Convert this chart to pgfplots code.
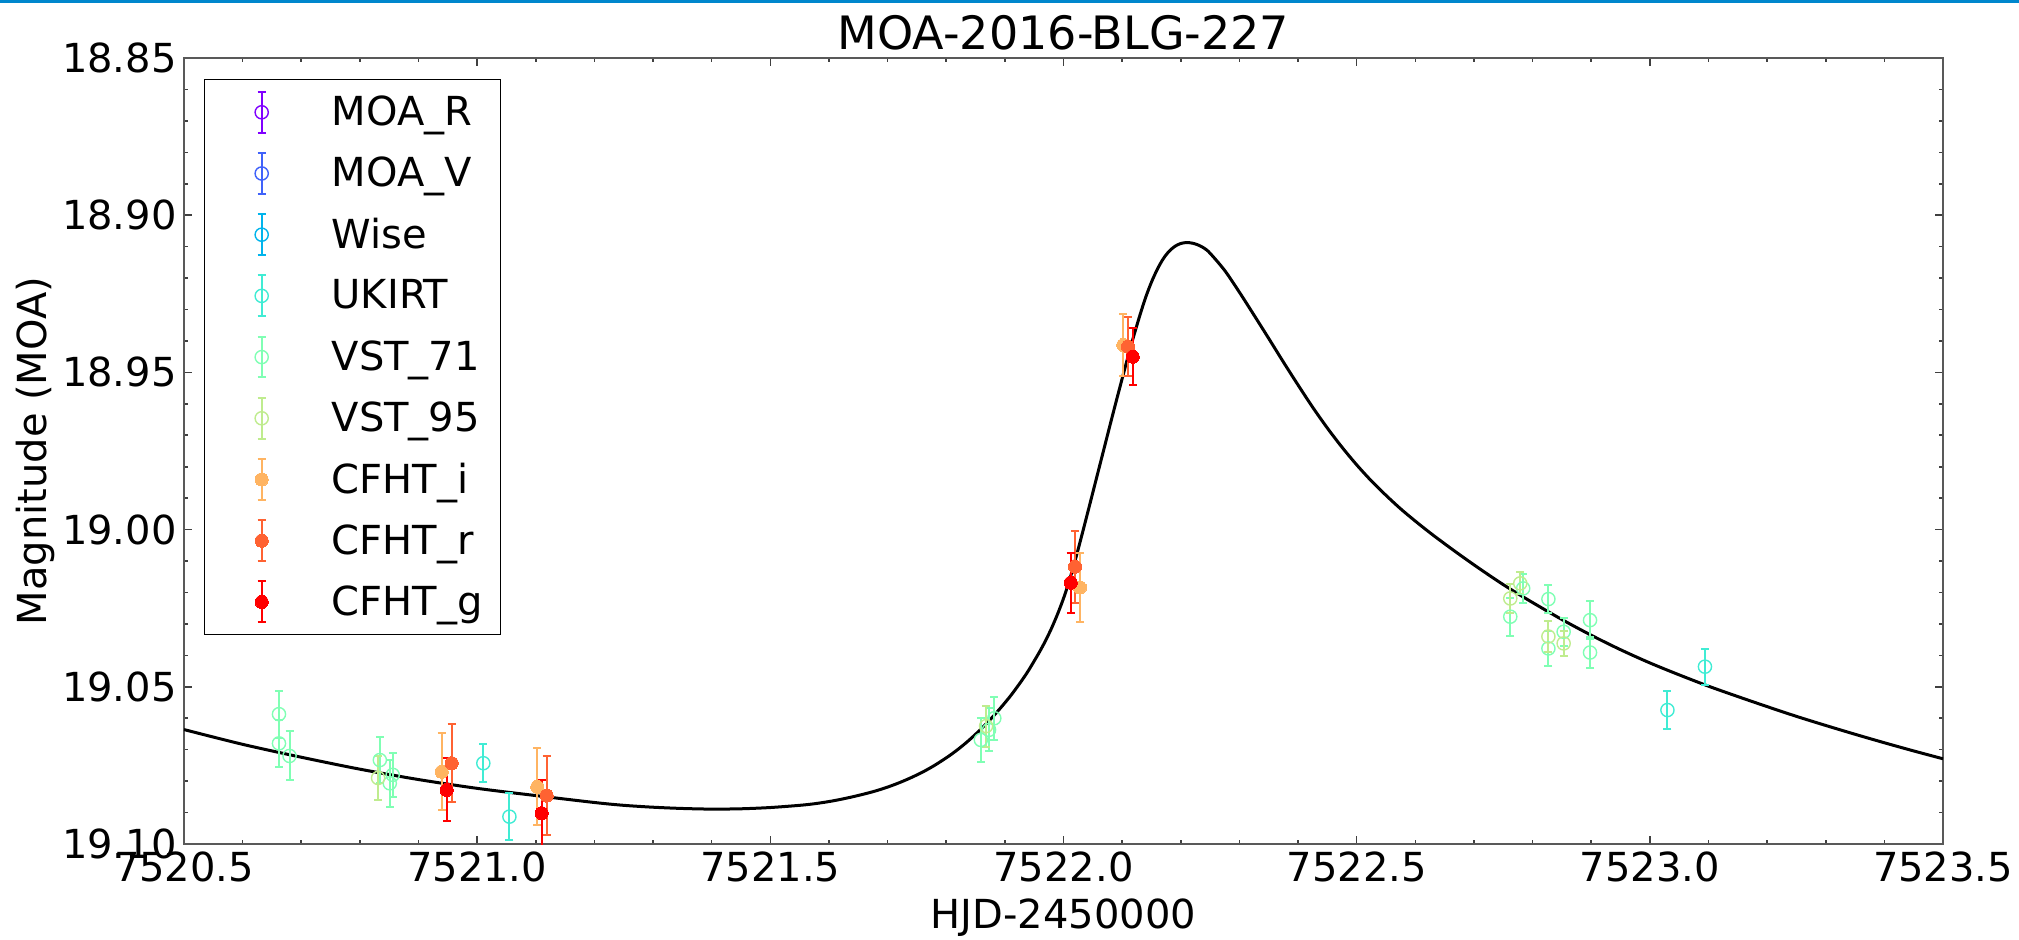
\documentclass[border=0pt]{standalone}
\usepackage{fontspec}
\setmainfont{DejaVu Sans}
\usepackage{pgfplots}
\usepackage{pgfplotstable}
\pgfplotsset{compat=1.18}

% rainbow colour map sampled at nine data sets
\definecolor{cMOAR}{RGB}{128,0,255}
\definecolor{cMOAV}{RGB}{64,98,250}
\definecolor{cWise}{RGB}{0,180,236}
\definecolor{cUKIRT}{RGB}{64,236,212}
\definecolor{cVSTa}{RGB}{128,255,180}
\definecolor{cVSTb}{RGB}{191,236,142}
\definecolor{cCFi}{RGB}{255,180,98}
\definecolor{cCFr}{RGB}{255,98,50}
\definecolor{cCFg}{RGB}{255,0,0}
\definecolor{cBar}{RGB}{0,135,205}

% best-fit model light curve
\pgfplotstableread{
t m
7520.50 19.0636
7520.60 19.0683
7520.70 19.0724
7520.80 19.0762
7520.90 19.0795
7521.00 19.0823
7521.10 19.0846
7521.20 19.0868
7521.25 19.0877
7521.30 19.0883
7521.35 19.0887
7521.40 19.0889
7521.45 19.0888
7521.50 19.0884
7521.55 19.0877
7521.575 19.0872
7521.60 19.0865
7521.62 19.0858
7521.64 19.0850
7521.66 19.0841
7521.68 19.0831
7521.70 19.0819
7521.72 19.0805
7521.74 19.0789
7521.76 19.0771
7521.78 19.0750
7521.80 19.0726
7521.81 19.0713
7521.82 19.0699
7521.83 19.0684
7521.84 19.0668
7521.85 19.0651
7521.86 19.0633
7521.87 19.0614
7521.88 19.0594
7521.89 19.0573
7521.90 19.0551
7521.91 19.0528
7521.92 19.0503
7521.93 19.0477
7521.94 19.0449
7521.95 19.0418
7521.96 19.0386
7521.97 19.0351
7521.98 19.0312
7521.99 19.0268
7522.00 19.0219
7522.01 19.0162
7522.02 19.0097
7522.03 19.0027
7522.04 18.9955
7522.05 18.9882
7522.06 18.9809
7522.07 18.9736
7522.08 18.9663
7522.09 18.9591
7522.10 18.9520
7522.11 18.9450
7522.12 18.9383
7522.13 18.9320
7522.14 18.9262
7522.15 18.9213
7522.16 18.9172
7522.17 18.9139
7522.18 18.9115
7522.19 18.9099
7522.20 18.9090
7522.21 18.9087
7522.22 18.9089
7522.23 18.9095
7522.24 18.9105
7522.25 18.9121
7522.275 18.9176
7522.30 18.9245
7522.325 18.9318
7522.35 18.9392
7522.375 18.9467
7522.40 18.9540
7522.425 18.9611
7522.45 18.9677
7522.475 18.9738
7522.50 18.9794
7522.525 18.9845
7522.55 18.9891
7522.575 18.9934
7522.60 18.9973
7522.625 19.0010
7522.65 19.0045
7522.675 19.0079
7522.70 19.0112
7522.725 19.0144
7522.75 19.0175
7522.775 19.0204
7522.80 19.0232
7522.85 19.0286
7522.90 19.0336
7522.95 19.0382
7523.00 19.0424
7523.05 19.0462
7523.10 19.0498
7523.15 19.0531
7523.20 19.0563
7523.25 19.0594
7523.30 19.0623
7523.35 19.0651
7523.40 19.0678
7523.45 19.0704
7523.50 19.0729
}\modelcurve

\pgfplotstableread{
t m e
7521.0105 19.0743 0.0061
7521.055 19.0913 0.0075
7523.030 19.0574 0.0061
7523.094 19.0436 0.0057
}\ukirt

\pgfplotstableread{
t m e
7520.662 19.0587 0.0075
7520.662 19.0680 0.0075
7520.680 19.0720 0.0078
7520.834 19.0733 0.0072
7520.851 19.0807 0.0075
7520.856 19.0780 0.0070
7521.859 19.0669 0.0070
7521.873 19.0637 0.0068
7521.882 19.0600 0.0068
7522.762 19.0277 0.0061
7522.784 19.0187 0.0045
7522.827 19.0221 0.0045
7522.827 19.0378 0.0055
7522.853 19.0325 0.0045
7522.898 19.0288 0.0060
7522.898 19.0391 0.0050
}\vstA

\pgfplotstableread{
t m e
7520.831 19.0790 0.0070
7521.868 19.0625 0.0065
7522.762 19.0219 0.0045
7522.779 19.0171 0.0035
7522.827 19.0340 0.0050
7522.853 19.0362 0.0040
}\vstB

\pgfplotstableread{
t m e
7520.9395 19.0770 0.0122
7521.1026 19.0818 0.0122
7522.028 19.0184 0.0110
7522.102 18.9413 0.0100
}\cfhti

\pgfplotstableread{
t m e
7520.9566 19.0743 0.0125
7521.1186 19.0846 0.0125
7522.0197 19.0118 0.0115
7522.110 18.9418 0.0095
}\cfhtr

\pgfplotstableread{
t m e
7520.948 19.0828 0.0100
7521.110 19.0902 0.0105
7522.0123 19.0169 0.0095
7522.118 18.9450 0.0090
}\cfhtg

\pgfplotsset{
  ebleg/.style={
    /pgfplots/legend image code/.code={%
      \path[draw=none,fill=none] (-27.5pt,-15.3pt) rectangle (35pt,15.3pt);
      \draw[line width=1pt,solid] (0pt,-10.2pt) -- (0pt,10.2pt)
        (-2pt,-10.2pt) -- (2pt,-10.2pt) (-2pt,10.2pt) -- (2pt,10.2pt);
      \draw[only marks] plot coordinates {(0pt,0pt)};
    }},
  ebbase/.style={
    /tikz/only marks,
    /pgfplots/error bars/y dir=both,
    /pgfplots/error bars/y explicit,
    /pgfplots/error bars/error bar style={line width=1pt,solid},
    /pgfplots/error bars/error mark options={rotate=90,mark size=2pt,line width=1pt,solid},
  },
  openpt/.style={ebbase, /tikz/mark=o, /tikz/mark size=3.3pt,
    /tikz/mark options={line width=0.7pt,solid}, ebleg},
  fullpt/.style={ebbase, /tikz/mark=*, /tikz/mark size=3.3pt,
    /tikz/mark options={line width=0pt,solid}, ebleg},
}

\begin{document}
\begin{tikzpicture}
\path[use as bounding box] (0,0) rectangle (1009.5pt,470pt);
\fill[cBar] (0,468.6pt) rectangle (1009.5pt,470pt);
\begin{axis}[
  at={(92pt,48pt)}, anchor=south west,
  scale only axis, width=879.5pt, height=393pt,
  xmin=7520.5, xmax=7523.5,
  ymin=18.85, ymax=19.10, y dir=reverse,
  xtick={7520.5,7521,7521.5,7522,7522.5,7523,7523.5},
  ytick={18.85,18.90,18.95,19.00,19.05,19.10},
  minor x tick num=4, minor y tick num=4,
  scaled ticks=false,
  major tick length=4pt, minor tick length=2pt,
  tick style={black!75, line width=0.8pt},
  axis line style={black!65, line width=1.3pt},
  tick label style={font=\fontsize{20}{24}\selectfont},
  xticklabel style={anchor=base, yshift=-19pt,
    /pgf/number format/assume math mode=true, /pgf/number format/fixed,
    /pgf/number format/fixed zerofill, /pgf/number format/precision=1,
    /pgf/number format/1000 sep={}},
  yticklabel style={anchor=east, inner sep=0pt, xshift=-3.5pt,
    /pgf/number format/assume math mode=true, /pgf/number format/fixed,
    /pgf/number format/fixed zerofill, /pgf/number format/precision=2},
  xlabel={HJD-2450000},
  ylabel={Magnitude (MOA)},
  label style={font=\fontsize{20}{24}\selectfont},
  xlabel style={at={(axis description cs:0.5,-0.1081)}, anchor=base},
  ylabel style={at={(axis description cs:-0.07845,0.5)}, anchor=base},
  title={MOA-2016-BLG-227},
  title style={font=\fontsize{23}{28}\selectfont, at={(axis description cs:0.5,1)}, anchor=base, yshift=-2pt},
  legend style={at={(axis description cs:0.01137,0.9733)}, anchor=north west,
    draw=black, line width=0.7pt, fill=white, inner sep=1pt, row sep=0pt,
    font=\fontsize{20}{24}\selectfont, nodes={inner sep=0pt}},
  legend cell align=left,
]
\addplot[black, line width=1.5pt, smooth, forget plot] table[x=t,y=m] {\modelcurve};

\addlegendimage{color=cMOAR, openpt}
\addlegendentry{\makebox[83.5pt][l]{MOA\_R}}
\addlegendimage{color=cMOAV, openpt}
\addlegendentry{\makebox[83.5pt][l]{MOA\_V}}
\addlegendimage{color=cWise, openpt}
\addlegendentry{\makebox[83.5pt][l]{Wise}}

\addplot[color=cUKIRT, openpt] table[x=t,y=m,y error=e] {\ukirt};
\addlegendentry{\makebox[83.5pt][l]{UKIRT}}
\addplot[color=cVSTa, openpt] table[x=t,y=m,y error=e] {\vstA};
\addlegendentry{\makebox[83.5pt][l]{VST\_71}}
\addplot[color=cVSTb, openpt] table[x=t,y=m,y error=e] {\vstB};
\addlegendentry{\makebox[83.5pt][l]{VST\_95}}
\addplot[color=cCFi, fullpt] table[x=t,y=m,y error=e] {\cfhti};
\addlegendentry{\makebox[83.5pt][l]{CFHT\_i}}
\addplot[color=cCFr, fullpt] table[x=t,y=m,y error=e] {\cfhtr};
\addlegendentry{\makebox[83.5pt][l]{CFHT\_r}}
\addplot[color=cCFg, fullpt] table[x=t,y=m,y error=e] {\cfhtg};
\addlegendentry{\makebox[83.5pt][l]{CFHT\_g}}
\end{axis}
\end{tikzpicture}
\end{document}
